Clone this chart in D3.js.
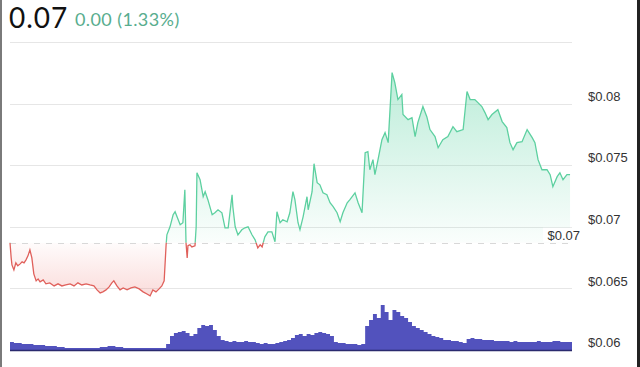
<!DOCTYPE html>
<html><head><meta charset="utf-8">
<script src="https://cdn.jsdelivr.net/npm/d3@7/dist/d3.min.js"></script>
<style>body{margin:0;background:#fff;overflow:hidden}svg{display:block}</style>
</head><body>
<script>
// price series: minutes since start of day, price in USD
const times = [0,3,5,10,15,20,26,31,36,41,46,51,56,61,67,72,77,85,92,102,113,123,133,143,154,164,174,184,195,205,215,223,231,238,246,254,261,266,274,282,290,300,310,320,331,341,351,359,366,374,382,389,395,
400,402,410,418,423,428,436,443,448,451,454,456,461,466,474,477,479,487,495,500,507,518,525,533,543,551,559,569,571,577,584,594,602,610,620,628,635,641,646,653,661,671,679,684,692,699,710,717,725,730,738,743,751,761,764,774,779,787,794,802,812,820,828,838,846,853,864,871,884,892,902,910,917,922,930,935,943,953,961,969,979,986,994,1004,1007,1020,1030,1038,1045,1058,1068,1076,1089,1097,1109,1122,1135,1145,1161,1171,1179,1191,1199,1209,1217,1225,1235,1250,1261,1273,1281,1289,1299,1312,1325,1338,1345,1353,1363,1376,1384,1391,1402,1409,1417,1427,1435];
const prices = [0.06870,0.06748,0.06691,0.06650,0.06707,0.06683,0.06699,0.06715,0.06707,0.06732,0.06764,0.06813,0.06748,0.06618,0.06561,0.06577,0.06553,0.06569,0.06537,0.06545,0.06520,0.06537,0.06520,0.06528,0.06537,0.06520,0.06545,0.06528,0.06537,0.06528,0.06520,0.06488,0.06463,0.06472,0.06488,0.06512,0.06545,0.06561,0.06520,0.06488,0.06504,0.06488,0.06504,0.06512,0.06496,0.06472,0.06455,0.06439,0.06488,0.06472,0.06496,0.06520,0.06561,
0.06854,0.06935,0.07000,0.07098,0.07122,0.07081,0.07016,0.07033,0.07301,0.06870,0.06748,0.06846,0.06854,0.06837,0.06846,0.07000,0.07439,0.07382,0.07244,0.07285,0.07220,0.07098,0.07114,0.07138,0.07114,0.06992,0.06992,0.07260,0.07163,0.07000,0.06935,0.06976,0.06992,0.07000,0.06935,0.06894,0.06829,0.06854,0.06837,0.06919,0.06959,0.06959,0.06878,0.07122,0.07033,0.07057,0.07041,0.07114,0.07285,0.07220,0.07033,0.06976,0.07081,0.07244,0.07138,0.07285,0.07512,0.07358,0.07341,0.07276,0.07260,0.07195,0.07163,0.07114,0.07041,0.07114,0.07195,0.07220,0.07276,0.07195,0.07114,0.07602,0.07610,0.07463,0.07545,0.07423,0.07545,0.07707,0.07764,0.07683,0.08252,0.08171,0.08033,0.08073,0.07911,0.07870,0.07886,0.07732,0.07846,0.07976,0.07894,0.07789,0.07732,0.07642,0.07707,0.07732,0.07813,0.07772,0.07789,0.08098,0.08033,0.08033,0.08008,0.07976,0.07927,0.07870,0.07911,0.07951,0.07854,0.07805,0.07683,0.07626,0.07683,0.07691,0.07789,0.07724,0.07683,0.07545,0.07463,0.07463,0.07423,0.07325,0.07407,0.07439,0.07382,0.07423,0.07423];
// volume series: one value per 10 minutes
const volumes = [8,7,7,6,6,6,5,5,5,4,4,4,3,3,2,2,2,2,2,2,2,2,2,3,3,4,4,3,3,2,2,2,2,2,2,2,2,2,2,2,
6,14,17,18,19,17,14,16,22,25,24,25,20,14,10,9,8,9,8,8,9,8,8,7,6,7,6,6,7,8,9,10,12,15,16,14,16,15,17,18,17,16,14,8,7,7,6,6,6,5,6,
24,30,36,32,45,38,30,40,38,34,32,28,24,22,20,18,16,14,13,12,10,10,9,9,8,7,11,12,11,11,10,10,10,9,9,9,9,8,9,8,8,8,8,8,9,8,8,8,9,9,8,8,8,8];
const yTicks = [0.06,0.065,0.07,0.075,0.08,0.085];
const yTickLabels = ["$0.06","$0.065","$0.07","$0.075","$0.08",""];
const prevClose = 0.0687;
const prevCloseLabel = "$0.07";
const headline = "0.07";
const change = "0.00 (1.33%)";

const W = 640, H = 367;
const svg = d3.select("body").append("svg").attr("width", W).attr("height", H);
const x = d3.scaleLinear().domain([0, 1440]).range([10, 572]);
const y = d3.scaleLinear().domain([0.06, 0.085]).range([350, 42]);
const yv = d3.scaleLinear().domain([0, 60]).range([350, 290]);

const data = times.map((t, i) => ({t, p: prices[i]}));
const vdata = volumes.map((v, i) => ({t: i * 10, v}));
const by = y(prevClose);

// borders
svg.append("rect").attr("x", 0).attr("y", 0).attr("width", 2).attr("height", H).attr("fill", "#7a7a7a");
svg.append("rect").attr("x", 637).attr("y", 0).attr("width", 3).attr("height", H).attr("fill", "#222");

// gridlines
svg.append("g").selectAll("line").data(yTicks.slice(1)).join("line")
  .attr("x1", 10).attr("x2", 572).attr("y1", d => Math.round(y(d)) + 0.5).attr("y2", d => Math.round(y(d)) + 0.5)
  .attr("stroke", "#e6e6e6").attr("stroke-width", 1);

// y axis labels
const yAxis = d3.axisRight(y).tickValues(yTicks).tickSize(0).tickPadding(0)
  .tickFormat((d, i) => yTickLabels[i]);
const ga = svg.append("g").attr("transform", "translate(588,0)").call(yAxis);
ga.select(".domain").remove();
ga.selectAll("text").attr("font-family", "Liberation Sans, Arial, sans-serif").attr("font-size", 13)
  .attr("fill", "#333").attr("dy", "-0.25em").attr("text-anchor", "start");

// gradients
const defs = svg.append("defs");
const gG = defs.append("linearGradient").attr("id", "gG").attr("gradientUnits", "userSpaceOnUse")
  .attr("x1", 0).attr("x2", 0).attr("y1", y(0.0825)).attr("y2", by);
gG.append("stop").attr("offset", 0).attr("stop-color", "#5fd3a4").attr("stop-opacity", 0.42);
gG.append("stop").attr("offset", 1).attr("stop-color", "#5fd3a4").attr("stop-opacity", 0.03);
const gR = defs.append("linearGradient").attr("id", "gR").attr("gradientUnits", "userSpaceOnUse")
  .attr("x1", 0).attr("x2", 0).attr("y1", by).attr("y2", y(0.0644));
gR.append("stop").attr("offset", 0).attr("stop-color", "#f08a86").attr("stop-opacity", 0.03);
gR.append("stop").attr("offset", 1).attr("stop-color", "#f08a86").attr("stop-opacity", 0.3);
defs.append("clipPath").attr("id", "cAbove").append("rect").attr("x", 0).attr("y", 0).attr("width", W).attr("height", by);
defs.append("clipPath").attr("id", "cBelow").append("rect").attr("x", 0).attr("y", by).attr("width", W).attr("height", H - by);

const area = d3.area().x(d => x(d.t)).y0(by).y1(d => y(d.p));
const line = d3.line().x(d => x(d.t)).y(d => y(d.p));

svg.append("path").datum(data).attr("d", area).attr("fill", "url(#gG)").attr("clip-path", "url(#cAbove)");
svg.append("path").datum(data).attr("d", area).attr("fill", "url(#gR)").attr("clip-path", "url(#cBelow)");

// previous close dashed line
svg.append("line").attr("x1", 10).attr("x2", 572).attr("y1", Math.round(by) + 0.5).attr("y2", Math.round(by) + 0.5)
  .attr("stroke", "#d8d8d8").attr("stroke-dasharray", "6,6");

svg.append("path").datum(data).attr("d", line).attr("fill", "none").attr("stroke", "#5dd0a0")
  .attr("stroke-width", 1.3).attr("clip-path", "url(#cAbove)");
svg.append("path").datum(data).attr("d", line).attr("fill", "none").attr("stroke", "#e0605b")
  .attr("stroke-width", 1.3).attr("clip-path", "url(#cBelow)");

// prev close label
const pl = svg.append("g");
pl.append("rect").attr("x", 543).attr("y", by - 15).attr("width", 38).attr("height", 14).attr("fill", "#fff");
pl.append("text").attr("x", 580).attr("y", by - 3).attr("text-anchor", "end")
  .attr("font-family", "Liberation Sans, Arial, sans-serif").attr("font-size", 13).attr("fill", "#333").text(prevCloseLabel);

// volume
const varea = d3.area().x(d => x(d.t)).y0(350).y1(d => yv(d.v)).curve(d3.curveStepAfter);
svg.append("path").datum(vdata).attr("d", varea).attr("fill", "#5252bd");
svg.append("line").attr("x1", 10).attr("x2", 572).attr("y1", 350.5).attr("y2", 350.5).attr("stroke", "#2a2a6e").attr("stroke-width", 1.5);

// header
svg.append("text").attr("x", 9).attr("y", 28).attr("font-family", "Lato, sans-serif").attr("font-size", 28)
  .attr("letter-spacing", 1).attr("fill", "#111").text(headline);
svg.append("text").attr("x", 75).attr("y", 26).attr("font-family", "Lato, sans-serif").attr("font-size", 18)
  .attr("letter-spacing", 0.4).attr("fill", "#58ad8e").text(change);
</script>
</body></html>
